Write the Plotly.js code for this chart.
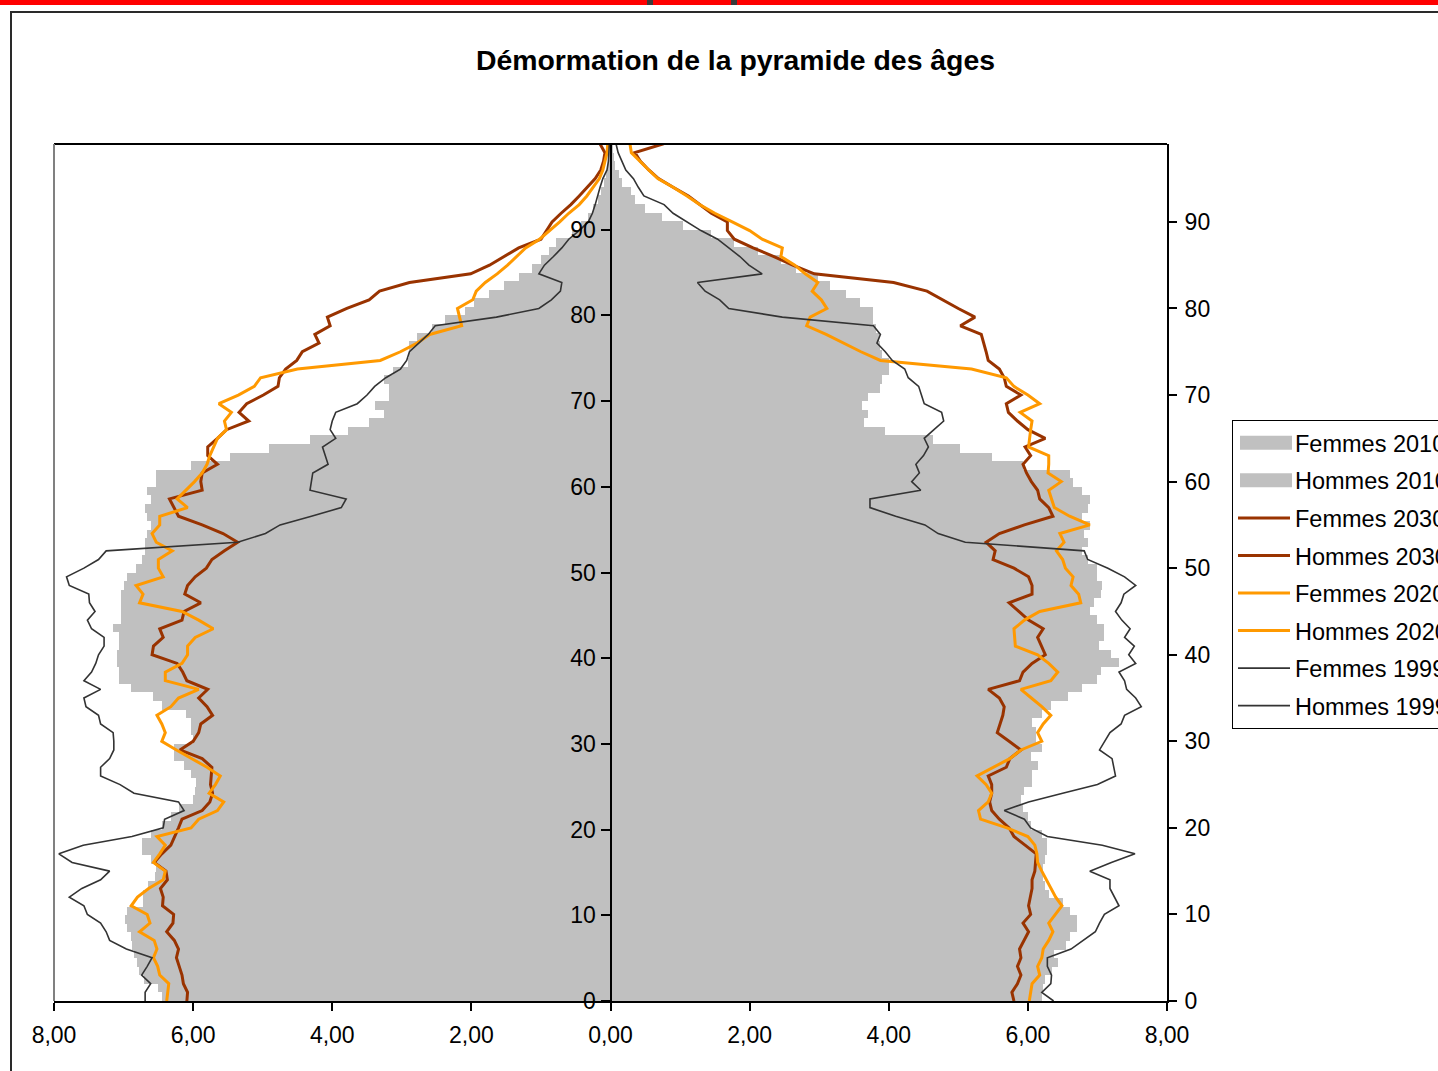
<!DOCTYPE html>
<html><head><meta charset="utf-8">
<script src="https://cdn.plot.ly/plotly-3.0.1.min.js"></script>
<style>html,body{margin:0;padding:0;background:#fff;overflow:hidden}#chart{width:1438px;height:1071px}</style>
</head><body><div id="chart"></div>
<script>
const agesBars = [0,1,2,3,4,5,6,7,8,9,10,11,12,13,14,15,16,17,18,19,20,21,22,23,24,25,26,27,28,29,30,31,32,33,34,35,36,37,38,39,40,41,42,43,44,45,46,47,48,49,50,51,52,53,54,55,56,57,58,59,60,61,62,63,64,65,66,67,68,69,70,71,72,73,74,75,76,77,78,79,80,81,82,83,84,85,86,87,88,89,90,91,92,93,94,95,96,97,98,99];
const agesLines = [0,1,2,3,4,5,6,7,8,9,10,11,12,13,14,15,16,17,18,19,20,21,22,23,24,25,26,27,28,29,30,31,32,33,34,35,36,37,38,39,40,41,42,43,44,45,46,47,48,49,50,51,52,53,54,55,56,57,58,59,60,61,62,63,64,65,66,67,68,69,70,71,72,73,74,75,76,77,78,79,80,81,82,83,84,85,86,87,88,89,90,91,92,93,94,95,96,97,98,99,100];

const femmes2010 = [6.2,6.22,6.25,6.35,6.44,6.38,6.55,6.6,6.7,6.7,
6.6,6.5,6.3,6.25,6.22,6.22,6.25,6.28,6.28,6.2,
6.04,6.0,5.93,5.9,5.95,6.06,6.06,6.14,6.04,6.2,
6.12,6.12,6.06,6.2,6.33,6.57,6.78,7.0,7.05,7.31,
7.2,7.02,7.1,7.1,7.0,6.9,6.95,7.05,7.07,7.0,
7.0,6.86,6.78,6.86,6.81,6.89,6.78,6.86,6.89,6.78,
6.65,6.6,5.93,5.48,5.03,4.63,3.94,3.64,3.7,3.62,
3.7,3.88,3.9,4.0,4.0,3.9,3.88,3.86,3.82,3.78,
3.78,3.59,3.38,3.16,2.98,2.66,2.45,2.12,1.78,1.44,
1.04,0.74,0.5,0.35,0.3,0.16,0.12,0.06,0.05,0.03];

const hommes2010 = [6.45,6.5,6.7,6.78,6.8,6.85,6.88,6.9,6.95,6.98,
6.95,6.72,6.72,6.65,6.55,6.53,6.6,6.74,6.74,6.6,
6.45,6.32,6.2,6.0,5.98,5.96,6.03,6.13,6.27,6.27,
6.0,6.03,6.03,6.1,6.45,6.58,6.9,7.06,7.06,7.09,
7.09,7.06,7.06,7.15,7.04,7.04,7.04,7.04,7.0,6.95,
6.82,6.74,6.69,6.69,6.66,6.61,6.66,6.69,6.61,6.66,
6.53,6.53,6.03,5.47,4.91,4.32,3.77,3.47,3.26,3.39,
3.18,3.18,3.26,3.13,2.91,2.9,2.89,2.78,2.57,2.38,
2.09,1.96,1.74,1.53,1.32,1.13,1.0,0.89,0.79,0.55,
0.42,0.32,0.25,0.18,0.13,0.09,0.06,0.04,0.03,0.02];

const femmes2030 = [5.8,5.77,5.85,5.9,5.85,5.9,5.88,5.95,6.01,5.93,
6.04,6.01,6.03,6.06,6.06,6.1,6.11,6.12,5.96,5.8,
5.73,5.59,5.48,5.45,5.48,5.48,5.43,5.69,5.74,5.9,
5.73,5.56,5.6,5.64,5.66,5.59,5.43,5.88,5.93,6.06,
6.25,6.2,6.14,6.22,6.01,5.87,5.73,6.06,6.06,6.01,
5.8,5.5,5.53,5.4,5.59,5.95,6.36,6.3,6.17,6.14,
6.05,5.98,5.93,6.04,5.96,6.25,6.0,5.85,5.72,5.69,
5.9,5.69,5.66,5.59,5.43,5.4,5.37,5.33,5.03,5.24,
5.0,4.78,4.55,4.07,2.93,2.62,2.35,2.05,1.78,1.68,
1.68,1.45,1.28,1.12,0.9,0.69,0.55,0.43,0.35,0.75,
1.1];

const hommes2030 = [6.09,6.08,6.14,6.16,6.2,6.24,6.21,6.27,6.38,6.29,
6.28,6.44,6.43,6.47,6.37,6.39,6.56,6.45,6.32,6.26,
6.21,6.16,5.87,5.76,5.72,5.75,5.74,5.73,5.87,6.19,
6.0,5.92,5.89,5.72,5.8,5.92,5.79,6.09,6.15,6.23,
6.59,6.57,6.43,6.48,6.16,6.13,5.89,6.12,6.08,5.97,
5.81,5.73,5.55,5.36,5.57,5.87,6.21,6.27,6.34,5.87,
5.89,5.87,5.65,5.79,5.79,5.65,5.52,5.2,5.34,5.23,
4.99,4.78,4.76,4.67,4.51,4.43,4.19,4.25,4.03,4.07,
3.79,3.47,3.32,2.89,2.01,1.74,1.53,1.32,1.0,0.92,
0.84,0.71,0.57,0.45,0.33,0.22,0.14,0.1,0.08,0.15,
0.25];

const femmes2020 = [6.02,6.04,6.06,6.17,6.14,6.2,6.22,6.3,6.36,6.3,
6.4,6.49,6.4,6.33,6.26,6.2,6.14,6.13,6.1,6.0,
5.7,5.32,5.29,5.43,5.48,5.4,5.27,5.5,5.74,5.9,
6.2,6.14,6.22,6.33,6.2,6.05,5.9,6.33,6.43,6.3,
6.14,5.82,5.81,5.8,5.95,6.17,6.76,6.73,6.62,6.65,
6.54,6.5,6.41,6.52,6.46,6.89,6.6,6.38,6.34,6.3,
6.48,6.29,6.3,6.3,6.01,6.02,6.04,6.06,5.89,6.17,
6.0,5.8,5.69,5.19,3.88,3.6,3.35,3.1,2.82,2.87,
3.11,3.03,2.9,2.98,2.8,2.65,2.45,2.47,2.18,2.0,
1.75,1.5,1.28,1.1,0.9,0.68,0.55,0.43,0.3,0.28,
0.35];

const hommes2020 = [6.38,6.36,6.35,6.48,6.51,6.57,6.52,6.56,6.77,6.62,
6.66,6.89,6.8,6.64,6.43,6.4,6.57,6.48,6.4,6.52,
6.03,5.92,5.65,5.56,5.77,5.68,5.61,5.8,6.03,6.24,
6.45,6.4,6.45,6.52,6.32,6.21,5.92,6.4,6.4,6.16,
6.08,6.08,5.97,5.71,5.92,6.16,6.77,6.72,6.82,6.43,
6.5,6.5,6.3,6.53,6.59,6.48,6.48,6.08,6.23,6.1,
5.98,5.87,5.8,5.76,5.7,5.65,5.52,5.55,5.45,5.63,
5.35,5.12,5.03,4.5,3.31,3.02,2.78,2.6,2.14,2.17,
2.2,1.98,1.93,1.8,1.63,1.48,1.35,1.22,1.02,0.87,
0.73,0.6,0.45,0.34,0.25,0.16,0.11,0.08,0.05,0.04,
0.05];

const femmes1999 = [6.37,6.2,6.33,6.34,6.28,6.28,6.62,6.8,6.97,7.03,
7.1,7.31,7.25,7.18,7.18,6.89,7.2,7.54,7.07,6.28,
6.04,5.95,5.66,6.01,6.5,7.0,7.26,7.24,7.21,7.03,
7.1,7.18,7.34,7.39,7.63,7.55,7.42,7.39,7.31,7.55,
7.45,7.53,7.39,7.47,7.35,7.26,7.34,7.38,7.55,7.39,
7.15,6.86,6.81,5.1,4.71,4.52,4.1,3.73,3.73,4.46,
4.33,4.44,4.39,4.5,4.57,4.51,4.65,4.79,4.76,4.51,
4.47,4.43,4.28,4.23,4.05,3.95,3.83,3.88,3.78,2.47,
1.7,1.57,1.36,1.25,2.18,1.99,1.86,1.7,1.54,1.3,
1.1,0.9,0.77,0.48,0.4,0.33,0.22,0.16,0.11,0.08,
0.06];

const hommes1999 = [6.69,6.69,6.61,6.74,6.66,6.59,6.96,7.2,7.25,7.33,
7.52,7.57,7.78,7.6,7.33,7.2,7.74,7.93,7.58,6.88,
6.43,6.41,6.13,6.21,6.85,7.05,7.33,7.33,7.2,7.14,
7.14,7.15,7.33,7.36,7.54,7.57,7.33,7.57,7.46,7.4,
7.36,7.28,7.28,7.46,7.52,7.41,7.49,7.5,7.78,7.82,
7.57,7.36,7.25,5.36,4.96,4.75,4.3,3.87,3.8,4.32,
4.3,4.28,4.06,4.1,4.14,3.95,4.03,4.0,3.95,3.64,
3.5,3.39,3.23,3.02,2.93,2.89,2.75,2.62,2.52,1.64,
1.03,0.85,0.72,0.7,1.03,0.95,0.82,0.7,0.6,0.45,
0.32,0.26,0.22,0.19,0.15,0.11,0.05,0.03,0.02,0.01,
0.01];

const xTickVals = [-8,-6,-4,-2,0,2,4,6,8];
const xTickText = ['8,00','6,00','4,00','2,00','0,00','2,00','4,00','6,00','8,00'];
const yTickVals = [0,10,20,30,40,50,60,70,80,90];

const neg = a => a.map(v => -v);
const barCenters = agesBars.map(a => a + 0.5);

const GREY = '#C0C0C0', BROWN = '#993300', ORANGE = '#FF9900', DARK = '#333333';

function barTrace(name, xs) {
  return {type:'bar', orientation:'h', name:name, legendgroup:name, x:xs, y:barCenters, width:1,
    marker:{color:GREY, line:{width:0}}, hoverinfo:'name+y'};
}
function lineTrace(name, xs, color, w) {
  return {type:'scatter', mode:'lines', name:name, legendgroup:name, x:xs, y:agesLines, yaxis:'y2',
    line:{color:color, width:w}, hoverinfo:'name+y'};
}

const data = [
  barTrace('Femmes 2010', femmes2010),
  barTrace('Hommes 2010', neg(hommes2010)),
  lineTrace('Femmes 2030', femmes2030, BROWN, 3),
  lineTrace('Hommes 2030', neg(hommes2030), BROWN, 3),
  lineTrace('Femmes 2020', femmes2020, ORANGE, 3),
  lineTrace('Hommes 2020', neg(hommes2020), ORANGE, 3),
  lineTrace('Femmes 1999', femmes1999, DARK, 1.6),
  lineTrace('Hommes 1999', neg(hommes1999), DARK, 1.6)
];

// pixel -> paper helpers for decorative frame (plot area 54..1167 x 144..1001)
const PX0 = 54, PW = 1113, PY0 = 1001, PH = 857;
const px = v => (v - PX0) / PW;
const py = v => (PY0 - v) / PH;

const layout = {
  width:1438, height:1071,
  margin:{l:54, r:271, t:144, b:70, pad:0, autoexpand:false},
  paper_bgcolor:'#ffffff', plot_bgcolor:'#ffffff',
  font:{family:'"Liberation Sans", Arial, sans-serif', size:23, color:'#000'},
  title:{text:'Démormation de la pyramide des âges', font:{size:28.4, weight:'bold', color:'#000'},
    xref:'paper', x:px(735.5), xanchor:'center', yref:'container', y:1-60/1071, yanchor:'middle'},
  barmode:'overlay', bargap:0,
  showlegend:true,
  legend:{x:px(1232), y:py(420), xanchor:'left', yanchor:'top', bgcolor:'#fff',
    bordercolor:'#000', borderwidth:1, font:{size:23.5, color:'#000'},
    traceorder:'grouped', tracegroupgap:4, itemwidth:52},
  xaxis:{range:[-8,8], tickvals:xTickVals, ticktext:xTickText, ticks:'outside', ticklen:8, tickwidth:2,
    tickcolor:'#000', showline:true, linecolor:'#000', linewidth:2, showgrid:false, zeroline:false,
    ticklabelstandoff:4, fixedrange:true},
  yaxis:{range:[0,100], tickvals:yTickVals, ticks:'outside', ticklen:9, tickwidth:2, tickcolor:'#000',
    showline:true, linecolor:'#000', linewidth:2, anchor:'free', position:0.5, side:'left',
    showgrid:false, zeroline:false, fixedrange:true},
  yaxis2:{range:[0,99], overlaying:'y', side:'right', anchor:'x', tickvals:yTickVals, ticks:'outside',
    ticklen:8, tickwidth:2, tickcolor:'#000', showline:true, linecolor:'#000', linewidth:2,
    showgrid:false, zeroline:false, ticklabelstandoff:3, fixedrange:true},
  shapes:[
    {type:'line', xref:'paper', yref:'paper', x0:0, x1:1, y0:1, y1:1, line:{color:'#000', width:2}},
    {type:'line', xref:'paper', yref:'paper', x0:0, x1:0, y0:0, y1:1, line:{color:'#808080', width:2}},
    {type:'rect', xref:'paper', yref:'paper', x0:px(0), x1:px(1438), y0:py(5), y1:py(0), fillcolor:'#FF0000', line:{width:0}},
    {type:'rect', xref:'paper', yref:'paper', x0:px(647), x1:px(653), y0:py(5), y1:py(0), fillcolor:'#3a3a3a', line:{width:0}},
    {type:'rect', xref:'paper', yref:'paper', x0:px(731), x1:px(737), y0:py(5), y1:py(0), fillcolor:'#3a3a3a', line:{width:0}},
    {type:'line', xref:'paper', yref:'paper', x0:px(10), x1:px(1438), y0:py(12), y1:py(12), line:{color:'#2a2a2a', width:2}},
    {type:'line', xref:'paper', yref:'paper', x0:px(11), x1:px(11), y0:py(12), y1:py(1071), line:{color:'#2a2a2a', width:2}}
  ]
};

const gd = document.getElementById('chart');
// widen the grey legend swatches of the bar series to match the line swatches
function widenBarSwatches() {
  const items = gd.querySelectorAll('.legend .traces');
  let x0 = 5, x1 = 55;
  items.forEach(it => {
    const lp = it.querySelector('.legendlines path');
    if (lp) { const b = lp.getBBox(); if (b.width > 0) { x0 = b.x; x1 = b.x + b.width; } }
  });
  items.forEach(it => {
    if (it.querySelector('.legendlines path')) return;
    const bp = it.querySelector('.legendpoints path');
    if (bp) {
      bp.removeAttribute('transform');
      bp.setAttribute('d', 'M' + (x0 + 2) + ',7H' + (x1 + 2) + 'V-7H' + (x0 + 2) + 'Z');
    }
  });
}
Plotly.newPlot(gd, data, layout, {displayModeBar:false, staticPlot:true}).then(widenBarSwatches);
</script>
</body></html>
